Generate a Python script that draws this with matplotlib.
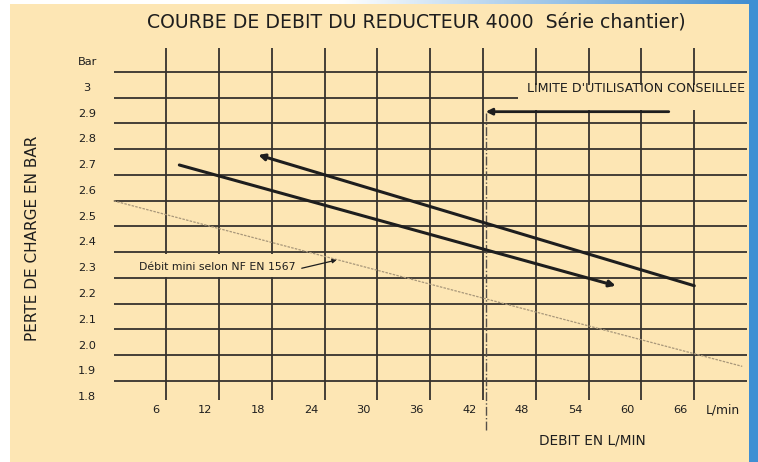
import matplotlib.pyplot as plt
import numpy as np
from matplotlib.patches import Rectangle

# values
flow_ticks = [6, 12, 18, 24, 30, 36, 42, 48, 54, 60, 66]
loss_ticks = [3.0, 2.9, 2.8, 2.7, 2.6, 2.5, 2.4, 2.3, 2.2, 2.1, 2.0, 1.9, 1.8]
loss_labels = ['3', '2.9', '2.8', '2.7', '2.6', '2.5', '2.4', '2.3',
               '2.2', '2.1', '2.0', '1.9', '1.8']

# decreasing flow curve (arrow to the left)
upper_flow = [66.0, 16.45]
upper_loss = [2.232, 2.740]
# increasing flow curve (arrow to the right)
lower_flow = [7.48, 57.07]
lower_loss = [2.701, 2.232]
# minimum flow according to NF EN 1567
mini_flow = [0.0, 71.45]
mini_loss = [2.562, 1.919]
# recommended limit
limit_flow = 42.3
limit_loss = 2.908
limit_arrow_from = 63.1

BG = '#fde6b4'
GRID = '#36322d'
INK = '#1e1e1e'
FONT = 'DejaVu Sans'

fig = plt.figure(figsize=(7.58, 4.62), dpi=100)
fig.patch.set_facecolor('white')

# background (pixel coordinates)
bg = fig.add_axes([0, 0, 1, 1])
bg.axis('off')
bg.add_patch(Rectangle((10, 0), 740, 462, facecolor=BG, edgecolor='none', zorder=1))
grad = np.linspace(0, 1, 256)
white = np.array([1.0, 1.0, 1.0])
blue = np.array([0.24, 0.55, 0.82])
w = np.clip((grad - 0.45) / 0.55, 0, 1)[:, None]
strip = (white * (1 - w) + blue * w)[None, :, :]
bg.imshow(strip, extent=(0, 758, 4, 0), aspect='auto', zorder=2)
bg.add_patch(Rectangle((749, 0), 9, 462, facecolor='#3f8fd3', edgecolor='none', zorder=2))
bg.set_xlim(0, 758)
bg.set_ylim(462, 0)

# chart area: full figure, data coordinates
ax = fig.add_axes([0, 0, 1, 1])
ax.patch.set_visible(False)
ax.axis('off')
ax.set_xlim(-12.898, 73.24)
ax.set_ylim(1.5476, 3.3417)

# grid
ax.hlines(np.array(loss_ticks) + 0.063, 0, 72, color=GRID, lw=1.3, zorder=1)
ax.vlines(flow_ticks, 1.788, 3.155, color=GRID, lw=1.3, zorder=1)

# axis labels
ax.text(-3.0, 3.1, 'Bar', ha='center', va='center', fontsize=8.2, family=FONT, color=INK)
for v, lab in zip(loss_ticks, loss_labels):
    ax.text(-3.0, v, lab, ha='center', va='center', fontsize=8.2, family=FONT, color=INK)
for v in flow_ticks:
    ax.text(v - 0.75, 1.750, str(v), ha='right', va='center', fontsize=8.2, family=FONT, color=INK)
ax.text(67.27, 1.750, 'L/min', ha='left', va='center', fontsize=8.8, family=FONT, color=INK)
ax.text(54.4, 1.633, 'DEBIT EN L/MIN', ha='center', va='center', fontsize=9.8, family=FONT, color=INK)

fig.text(32.5 / 758, 1 - 238 / 462, 'PERTE DE CHARGE EN BAR', rotation=90,
         ha='center', va='center', fontsize=11, family=FONT, color=INK)
fig.text(416 / 758, 1 - 22 / 462, 'COURBE DE DEBIT DU REDUCTEUR 4000  Série chantier)',
         ha='center', va='center', fontsize=13.6, family=FONT, color=INK)

# boxes that hide the grid behind the notes
ax.add_patch(Rectangle((46.0, 2.915), 26.1, 0.097, facecolor=BG, edgecolor='none', zorder=2))
ax.add_patch(Rectangle((1.9, 2.267), 20.6, 0.09, facecolor=BG, edgecolor='none', zorder=2))

# minimum flow line
ax.plot(mini_flow, mini_loss, color='#a8977a', lw=0.9, ls=(0, (2, 1)), zorder=4)

# recommended limit
ax.vlines(limit_flow, 1.672, 2.903, color='#555049', lw=1.0, ls='-.', zorder=2)
ax.annotate('', xy=(limit_flow, limit_loss), xytext=(limit_arrow_from, limit_loss),
            arrowprops=dict(arrowstyle='-|>', color=INK, lw=2.0, mutation_scale=9,
                            shrinkA=0, shrinkB=0), zorder=5)
ax.text(47.0, 2.998, "LIMITE D'UTILISATION CONSEILLEE", ha='left', va='center',
        fontsize=9.1, family=FONT, color=INK, zorder=3)

# flow curves
ax.annotate('', xy=(upper_flow[1], upper_loss[1]), xytext=(upper_flow[0], upper_loss[0]),
            arrowprops=dict(arrowstyle='-|>', color=INK, lw=2.2, mutation_scale=9,
                            shrinkA=0, shrinkB=0), zorder=5)
ax.annotate('', xy=(lower_flow[1], lower_loss[1]), xytext=(lower_flow[0], lower_loss[0]),
            arrowprops=dict(arrowstyle='-|>', color=INK, lw=2.2, mutation_scale=9,
                            shrinkA=0, shrinkB=0), zorder=5)

# minimum flow label
ax.text(2.93, 2.306, 'Débit mini selon NF EN 1567', ha='left', va='center',
        fontsize=7.8, family=FONT, color=INK, zorder=3)
ax.annotate('', xy=(25.36, 2.332), xytext=(21.39, 2.300),
            arrowprops=dict(arrowstyle='-|>', color=INK, lw=0.9, mutation_scale=6,
                            shrinkA=0, shrinkB=0), zorder=5)

fig.savefig('out.png', dpi=100, facecolor=fig.get_facecolor())
